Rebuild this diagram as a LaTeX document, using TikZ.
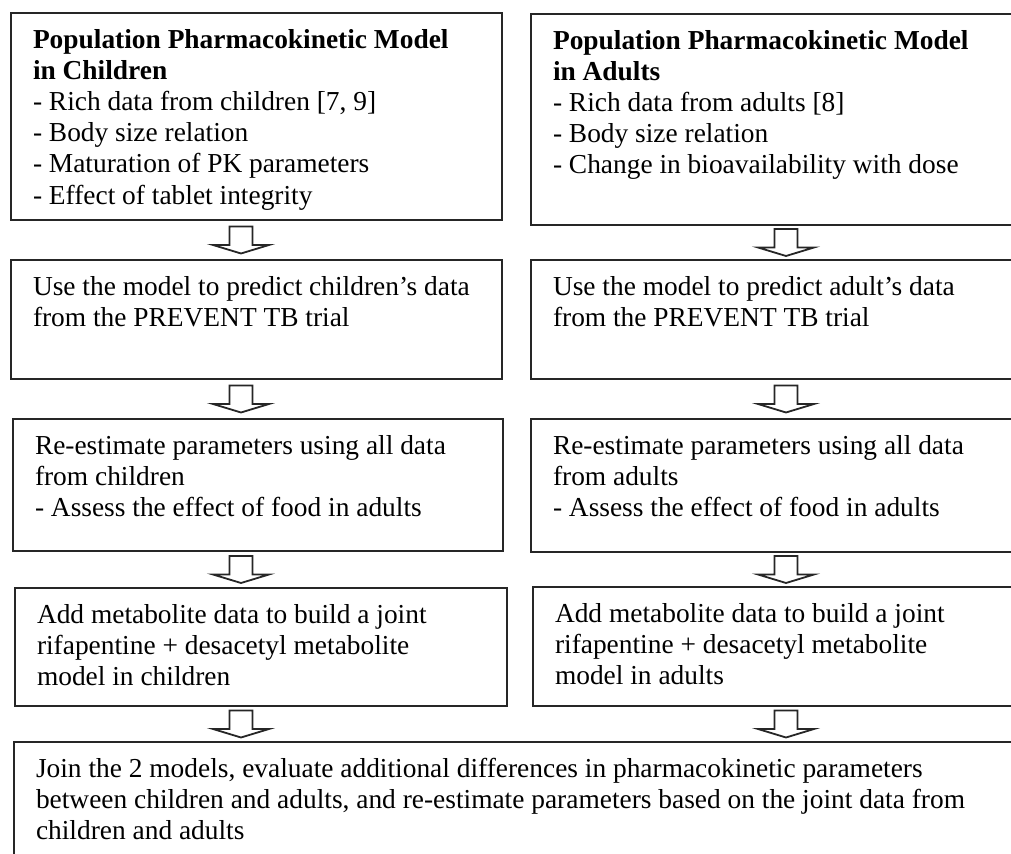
\documentclass[tikz,border=0pt]{standalone}
\usepackage{fontspec}
\setmainfont{Liberation Serif}
\usetikzlibrary{calc}

\newcommand{\stagefont}{\fontsize{13.7}{15.6}\selectfont}
% text block of fixed size, set from the top
\newcommand{\stagetext}[3]{\parbox[c][#2][t]{#1}{\raggedright #3}}

\tikzset{
    % Stage box style
    stage/.style={
        rectangle,
        draw=black!85,
        line width=1pt,
        anchor=north west,
        inner xsep=11pt,
        inner ysep=8pt,
        font=\stagefont,
        text=black
    },
    % Open block arrow between stages
    downblock/.pic={
        \draw[draw=black!85, line width=0.9pt, line join=miter]
            (-11.5,-13.5) -- (-11.5,5) -- (-28,5) -- (0,13.5) -- (28,5) -- (11.5,5) -- (11.5,-13.5) -- cycle;
    }
}

\begin{document}
\begin{tikzpicture}[x=0.5pt, y=-0.5pt]
    \useasboundingbox (0,0) rectangle (1011,854);
    \clip (0,0) rectangle (1011,854);

    % Arrow columns
    \coordinate (colL) at (241,0);
    \coordinate (colR) at (786,0);

    % Children path
    \node[stage] (l1) at (10,12) {\stagetext{223.5pt}{87.5pt}{%
        \textbf{Population Pharmacokinetic Model\\in Children}\\
        - Rich data from children [7, 9]\\
        - Body size relation\\
        - Maturation of PK parameters\\
        - Effect of tablet integrity}};
    \node[stage] (l2) at (10,259) {\stagetext{223.5pt}{43.5pt}{%
        Use the model to predict children’s data\\
        from the PREVENT TB trial}};
    \node[stage] (l3) at (12,418) {\stagetext{223pt}{50pt}{%
        Re-estimate parameters using all data\\
        from children\\
        - Assess the effect of food in adults}};
    \node[stage] (l4) at (14,587) {\stagetext{224pt}{43pt}{%
        Add metabolite data to build a joint\\
        rifapentine + desacetyl metabolite\\
        model in children}};

    % Adults path
    \node[stage] (r1) at (530,13) {\stagetext{228pt}{89.5pt}{%
        \textbf{Population Pharmacokinetic Model\\in Adults}\\
        - Rich data from adults [8]\\
        - Body size relation\\
        - Change in bioavailability with dose}};
    \node[stage] (r2) at (530,259) {\stagetext{228pt}{43.5pt}{%
        Use the model to predict adult’s data\\
        from the PREVENT TB trial}};
    \node[stage] (r3) at (530,418) {\stagetext{228pt}{50.5pt}{%
        Re-estimate parameters using all data\\
        from adults\\
        - Assess the effect of food in adults}};
    \node[stage] (r4) at (532,586) {\stagetext{227pt}{43.5pt}{%
        Add metabolite data to build a joint\\
        rifapentine + desacetyl metabolite\\
        model in adults}};

    % Joint model
    \node[stage] (join) at (13,741) {\stagetext{486.5pt}{49pt}{%
        Join the 2 models, evaluate additional differences in pharmacokinetic parameters\\
        between children and adults, and re-estimate parameters based on the joint data from\\
        children and adults}};

    % Block arrows
    \foreach \up/\down/\col in {l1/l2/colL, l2/l3/colL, l3/l4/colL, l4/join/colL,
                                r1/r2/colR, r2/r3/colR, r3/r4/colR, r4/join/colR} {
        \path ($(\up.south)!0.5!(\down.north)$) coordinate (mid);
        \pic at (mid -| \col) {downblock};
    }

\end{tikzpicture}
\end{document}
